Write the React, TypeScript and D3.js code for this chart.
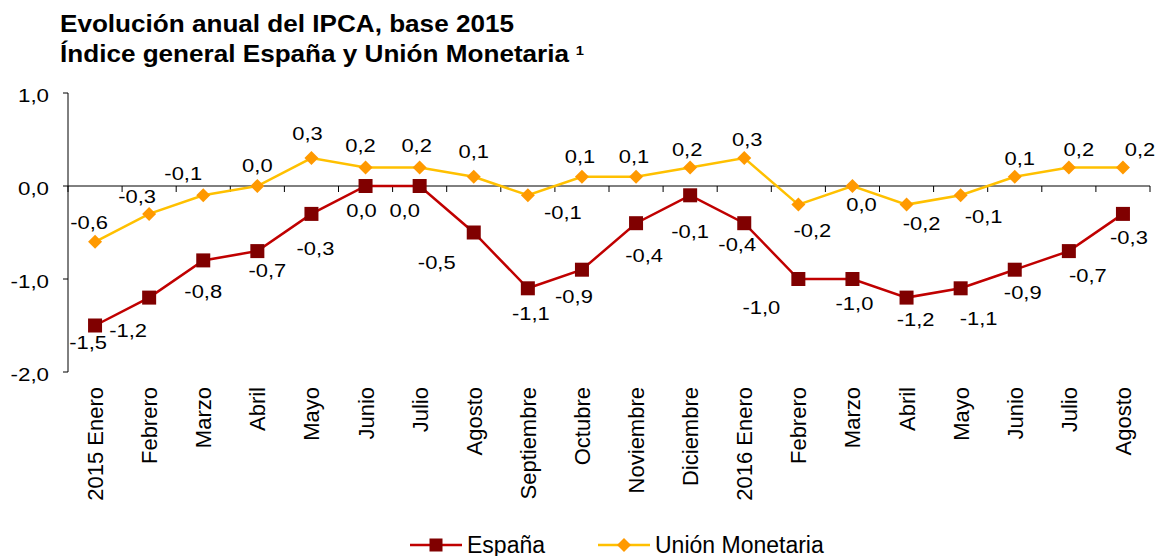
import React from 'react';
import * as d3 from 'd3';

const CATEGORIES = [
  '2015 Enero', 'Febrero', 'Marzo', 'Abril', 'Mayo', 'Junio', 'Julio', 'Agosto',
  'Septiembre', 'Octubre', 'Noviembre', 'Diciembre', '2016 Enero', 'Febrero',
  'Marzo', 'Abril', 'Mayo', 'Junio', 'Julio', 'Agosto',
];
const ESPANA = [-1.5, -1.2, -0.8, -0.7, -0.3, 0.0, 0.0, -0.5, -1.1, -0.9, -0.4, -0.1, -0.4, -1.0, -1.0, -1.2, -1.1, -0.9, -0.7, -0.3];
const UNION = [-0.6, -0.3, -0.1, 0.0, 0.3, 0.2, 0.2, 0.1, -0.1, 0.1, 0.1, 0.2, 0.3, -0.2, 0.0, -0.2, -0.1, 0.1, 0.2, 0.2];
const Y_TICKS = [-2, -1, 0, 1];

// data label placement (centre of label relative to its marker, px)
const ES_LABEL_OFFSETS: [number, number][] = [
  [-7, 17], [-21, 33], [0, 31], [10, 19], [4, 34], [-4, 24], [-15, 24], [-37, 30],
  [3, 25], [-8, 27], [8, 32], [0, 36], [-7, 21], [-37, 28], [2, 24], [9, 22],
  [18, 30], [8, 23], [19, 24], [6, 23],
];
const UM_LABEL_OFFSETS: [number, number][] = [
  [-6, -20], [-12, -18], [-20, -22], [0, -21], [-4, -25], [-5, -22], [-3, -22], [0, -25],
  [35, 17], [-2, -20], [-2, -20], [-3, -18], [3, -19], [14, 26], [9, 18], [15, 19],
  [23, 21], [5, -18], [10, -18], [17, -18],
];

const W = 1158;
const H = 556;
const PLOT = { left: 68, right: 1150, top: 93, bottom: 372 };
const FONT = '"Liberation Sans", Arial, sans-serif';

const ES_LINE = '#C00000';
const ES_MARK = '#800000';
const UM_LINE = '#FFC000';
const UM_MARK = '#FF9900';

const fmt = (v: number) => v.toFixed(1).replace('.', ',');

function Txt({ x, y, size, sx = 1, anchor = 'start', weight = 'normal', children }: any) {
  return (
    <text
      transform={`translate(${x},${y}) scale(${sx},1)`}
      fontFamily={FONT}
      fontSize={size}
      fontWeight={weight}
      textAnchor={anchor}
      fill="#000"
    >
      {children}
    </text>
  );
}

function Square({ cx, cy, s }: { cx: number; cy: number; s: number }) {
  return <rect x={cx - s / 2} y={cy - s / 2} width={s} height={s} fill={ES_MARK} />;
}

function Diamond({ cx, cy, r }: { cx: number; cy: number; r: number }) {
  return (
    <path
      d={`M${cx},${cy - r}L${cx + r},${cy}L${cx},${cy + r}L${cx - r},${cy}Z`}
      fill={UM_MARK}
    />
  );
}

export default function App() {
  const keys = CATEGORIES.map((c, i) => `${i}`);
  const x = d3.scaleBand<string>().domain(keys).range([PLOT.left, PLOT.right]);
  const y = d3.scaleLinear().domain([-2, 1]).range([PLOT.bottom, PLOT.top]);
  const cx = (i: number) => (x(`${i}`) as number) + x.bandwidth() / 2;

  const line = d3
    .line<number>()
    .x((_, i) => cx(i))
    .y((d) => y(d));

  const boundaries = d3.range(CATEGORIES.length + 1).map((i) => PLOT.left + i * x.bandwidth());

  return (
    <svg
      width={W}
      height={H}
      viewBox={`0 0 ${W} ${H}`}
      style={{ position: 'absolute', left: 0, top: 0, background: '#fff' }}
    >
      {/* Title */}
      <Txt x={60} y={32} size={23} sx={1.135} weight="bold">
        Evolución anual del IPCA, base 2015
      </Txt>
      <Txt x={60} y={62} size={23} sx={1.135} weight="bold">
        Índice general España y Unión Monetaria
        <tspan dx={6} dy={-7} fontSize={13}>1</tspan>
      </Txt>

      {/* Y axis */}
      <line x1={PLOT.left} x2={PLOT.left} y1={PLOT.top} y2={PLOT.bottom} stroke="#000" strokeWidth={1} />
      {Y_TICKS.map((t) => (
        <g key={t}>
          <line x1={PLOT.left - 5} x2={PLOT.left} y1={y(t)} y2={y(t)} stroke="#000" strokeWidth={1} />
          <Txt x={49} y={y(t) + 8.5} size={18.6} sx={1.2} anchor="end">
            {fmt(t)}
          </Txt>
        </g>
      ))}

      {/* X axis on zero line */}
      <line x1={PLOT.left} x2={PLOT.right} y1={y(0)} y2={y(0)} stroke="#000" strokeWidth={1} />
      {boundaries.map((bx, i) => (
        <line key={i} x1={bx} x2={bx} y1={y(0)} y2={y(0) + 6} stroke="#000" strokeWidth={1} />
      ))}
      {CATEGORIES.map((c, i) => (
        <text
          key={i}
          transform={`translate(${cx(i) + 8},387) rotate(-90)`}
          fontFamily={FONT}
          fontSize={22}
          textAnchor="end"
          fill="#000"
        >
          {c}
        </text>
      ))}

      {/* Lines */}
      <path d={line(UNION) ?? ''} fill="none" stroke={UM_LINE} strokeWidth={2.5} />
      <path d={line(ESPANA) ?? ''} fill="none" stroke={ES_LINE} strokeWidth={2.5} />

      {UNION.map((v, i) => (
        <Diamond key={i} cx={cx(i)} cy={y(v)} r={7} />
      ))}
      {ESPANA.map((v, i) => (
        <Square key={i} cx={cx(i)} cy={y(v)} s={14} />
      ))}

      {/* Data labels */}
      {UNION.map((v, i) => (
        <Txt key={i} x={cx(i) + UM_LABEL_OFFSETS[i][0]} y={y(v) + UM_LABEL_OFFSETS[i][1] + 6.7} size={18.6} sx={1.18} anchor="middle">
          {fmt(v)}
        </Txt>
      ))}
      {ESPANA.map((v, i) => (
        <Txt key={i} x={cx(i) + ES_LABEL_OFFSETS[i][0]} y={y(v) + ES_LABEL_OFFSETS[i][1] + 6.7} size={18.6} sx={1.18} anchor="middle">
          {fmt(v)}
        </Txt>
      ))}

      {/* Legend */}
      <g>
        <line x1={410} x2={462} y1={545} y2={545} stroke={ES_LINE} strokeWidth={2.5} />
        <Square cx={436} cy={545} s={13} />
        <Txt x={467} y={553} size={23}>España</Txt>
        <line x1={598} x2={650} y1={545} y2={545} stroke={UM_LINE} strokeWidth={2.5} />
        <Diamond cx={624} cy={545} r={7} />
        <Txt x={655} y={553} size={23}>Unión Monetaria</Txt>
      </g>
    </svg>
  );
}
